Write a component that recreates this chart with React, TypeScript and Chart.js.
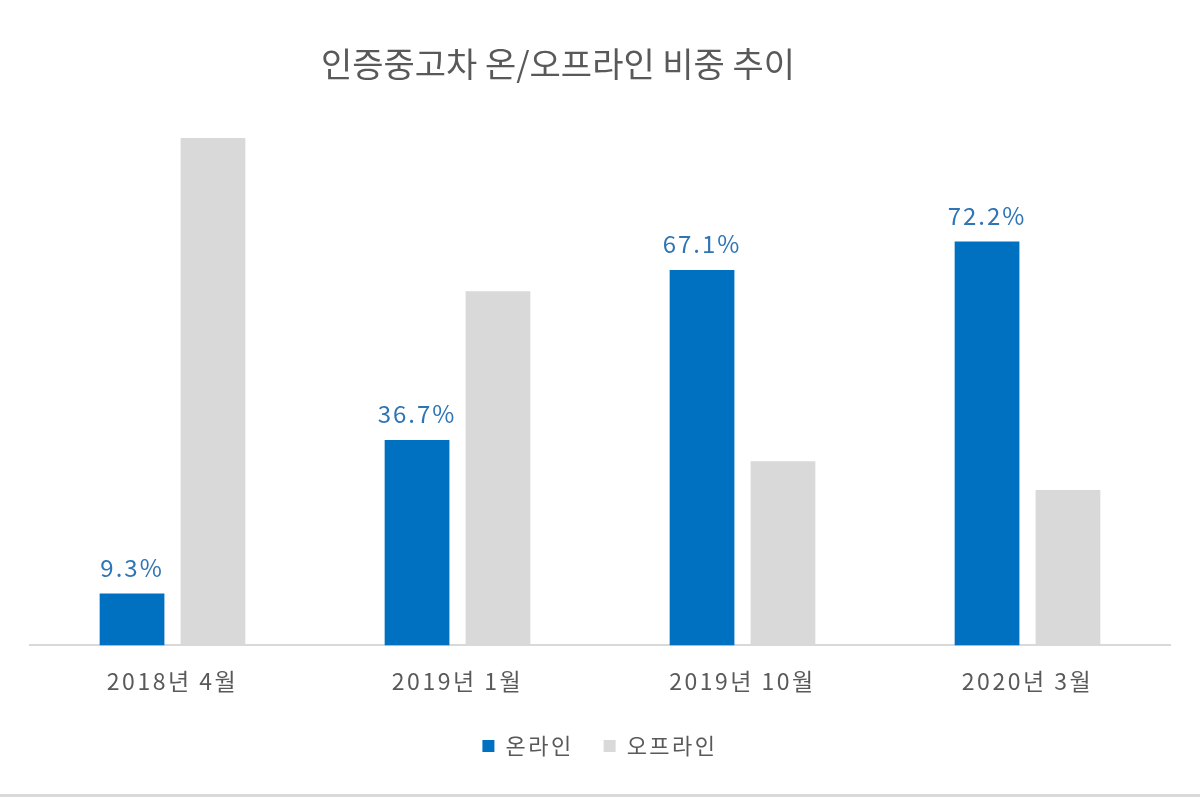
import React, { useEffect, useRef } from "react";
import { Chart, registerables } from "chart.js";

Chart.register(...registerables);

const categories = ["2018년 4월", "2019년 1월", "2019년 10월", "2020년 3월"];
const onlineValues = [9.3, 36.7, 67.1, 72.2];
const offlineValues = [90.7, 63.3, 32.9, 27.8];
const seriesNames = ["온라인", "오프라인"];
const chartTitle = "인증중고차 온/오프라인 비중 추이";

const FONT = "'Noto Sans CJK KR', 'Noto Sans', sans-serif";
const SPACING = "2.5px";

const spacingPlugin = {
  id: "spacing",
  beforeUpdate(chart: any) {
    chart.ctx.letterSpacing = SPACING;
  },
  beforeDraw(chart: any) {
    chart.ctx.letterSpacing = SPACING;
  },
};

const labelPlugin = {
  id: "onlineLabels",
  afterDatasetsDraw(chart: any) {
    const ctx = chart.ctx;
    const meta = chart.getDatasetMeta(0);
    ctx.save();
    ctx.letterSpacing = "2px";
    ctx.font = `24px ${FONT}`;
    ctx.fillStyle = "#2E75B6";
    ctx.textAlign = "center";
    ctx.textBaseline = "bottom";
    meta.data.forEach((bar: any, i: number) => {
      ctx.fillText(onlineValues[i].toFixed(1) + "%", bar.x, bar.y - 14);
    });
    ctx.restore();
  },
};

const titlePlugin = {
  id: "leftTitle",
  afterDraw(chart: any) {
    const ctx = chart.ctx;
    ctx.save();
    ctx.letterSpacing = "0px";
    ctx.font = `34px ${FONT}`;
    ctx.fillStyle = "#595959";
    ctx.textAlign = "center";
    ctx.textBaseline = "middle";
    ctx.fillText(chartTitle, 558, 64);
    ctx.restore();
  },
};

export default function App() {
  const ref = useRef<HTMLCanvasElement | null>(null);
  useEffect(() => {
    if (!ref.current) return;
    const chart = new Chart(ref.current, {
      type: "bar",
      data: {
        labels: categories,
        datasets: [
          {
            label: seriesNames[0],
            data: onlineValues,
            backgroundColor: "#0070C0",
            barPercentage: 0.8,
            categoryPercentage: 0.568,
          },
          {
            label: seriesNames[1],
            data: offlineValues,
            backgroundColor: "#D9D9D9",
            barPercentage: 0.8,
            categoryPercentage: 0.568,
          },
        ],
      },
      options: {
        animation: false,
        responsive: false,
        layout: { padding: { left: 30, right: 30, top: 86, bottom: 27 } },
        scales: {
          x: {
            grid: { display: false, drawTicks: false },
            border: { display: true, color: "#D9D9D9", width: 2 },
            ticks: {
              color: "#595959",
              font: { family: FONT, size: 23 },
              padding: 22,
            },
            afterFit(scale: any) {
              scale.height = scale.height - 12;
            },
          },
          y: {
            display: false,
            min: 0,
            max: 100,
          },
        },
        plugins: {
          title: { display: false },
          legend: {
            position: "bottom",
            labels: {
              color: "#595959",
              font: { family: FONT, size: 22 },
              boxWidth: 12,
              boxHeight: 12,
              padding: 30,
            },
          },
          tooltip: { enabled: false },
        },
      },
      plugins: [spacingPlugin, labelPlugin, titlePlugin],
    });
    return () => chart.destroy();
  }, []);
  return (
    <div
      style={{
        position: "fixed",
        left: 0,
        top: 0,
        width: 1200,
        height: 797,
        background: "#fff",
      }}
    >
      <canvas ref={ref} width={1200} height={794} style={{ display: "block" }} />
      <div style={{ height: 3, background: "#D9D9D9" }} />
    </div>
  );
}
